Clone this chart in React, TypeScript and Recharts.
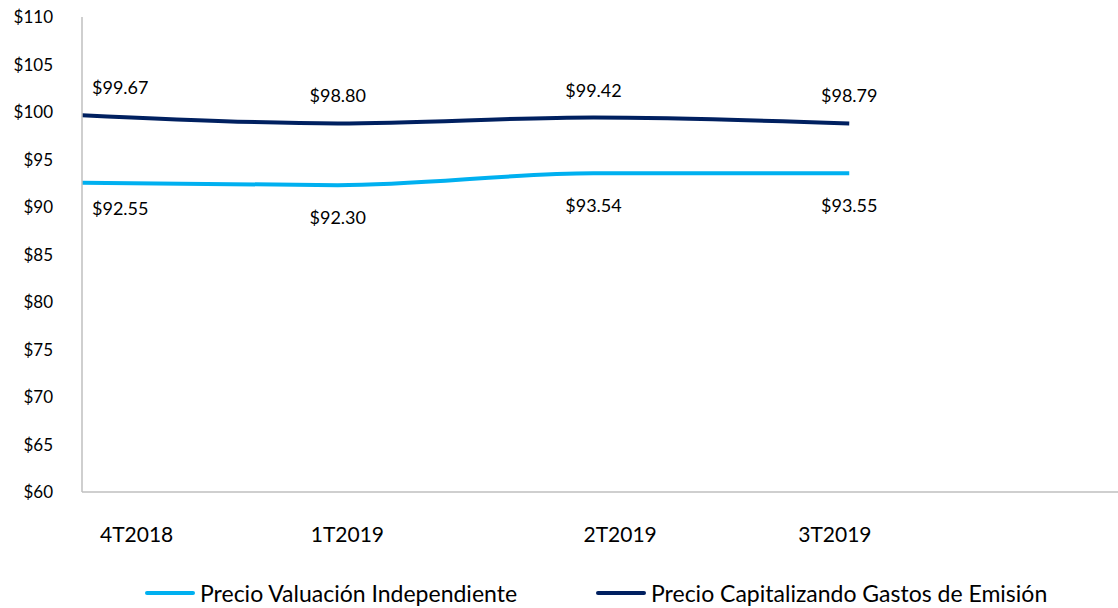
import React from 'react'
import { LineChart, Line, XAxis, YAxis, Legend, LabelList } from 'recharts'

const quarters = ['4T2018', '1T2019', '2T2019', '3T2019', '']
const valuacion = [92.55, 92.3, 93.54, 93.55, null]
const capitalizando = [99.67, 98.8, 99.42, 98.79, null]
const yTicks = [60, 65, 70, 75, 80, 85, 90, 95, 100, 105, 110]

const LIGHT = '#00B0F0'
const NAVY = '#002060'
const FONT = 'Lato, "Open Sans", sans-serif'

// label start offsets relative to each category point (layout only)
const tickShift = [18, -27, -10, -51, 0]

const data = quarters.map((q, i) => ({
  q,
  valuacion: valuacion[i],
  capitalizando: capitalizando[i],
}))

const fmt = (v: number) => `$${v.toFixed(2)}`

function QuarterTick(props: any) {
  const { x, y, payload, index } = props
  if (!payload.value) return null
  return (
    <text x={x + tickShift[index]} y={y + 48} textAnchor="start" fontSize={21} fill="#000" fontFamily={FONT}>
      {payload.value}
    </text>
  )
}

function makeLabel(above: boolean) {
  return function PriceLabel(props: any) {
    const { x, y, value, index } = props
    if (value == null) return null
    const first = index === 0
    const ty = above ? y - 21 : y + (first ? 32 : 39)
    return (
      <text
        x={first ? x + 10 : x}
        y={ty}
        textAnchor={first ? 'start' : 'middle'}
        fontSize={18}
        fill="#000"
        fontFamily={FONT}
      >
        {fmt(value)}
      </text>
    )
  }
}

function LegendBox() {
  const item = (color: string, label: string, width: number) => (
    <div style={{ display: 'flex', alignItems: 'center', width }}>
      <div style={{ width: 50, height: 4, background: color, borderRadius: 2, marginRight: 5 }} />
      <span>{label}</span>
    </div>
  )
  return (
    <div
      style={{
        display: 'flex',
        height: 30,
        alignItems: 'center',
        paddingLeft: 145,
        fontFamily: FONT,
        fontSize: 23,
        color: '#000',
      }}
    >
      {item(LIGHT, 'Precio Valuación Independiente', 451)}
      {item(NAVY, 'Precio Capitalizando Gastos de Emisión', 470)}
    </div>
  )
}

export default function App() {
  return (
    <div style={{ position: 'absolute', left: 0, top: 0, width: 1118, height: 608, background: '#fff' }}>
      <LineChart width={1118} height={608} data={data} margin={{ top: 17, right: 0, left: 0, bottom: 0 }}>
        <XAxis
          dataKey="q"
          height={86}
          tickLine={false}
          tickSize={0}
          interval={0}
          padding={{ left: 0, right: 13 }}
          axisLine={{ stroke: '#BFBFBF', strokeWidth: 1.5 }}
          tick={<QuarterTick />}
        />
        <YAxis
          width={82}
          domain={[60, 110]}
          ticks={yTicks}
          interval={0}
          tickLine={false}
          tickSize={0}
          tickMargin={29}
          axisLine={{ stroke: '#BFBFBF', strokeWidth: 1.5 }}
          tickFormatter={(v: number) => `$${v}`}
          tick={{ fill: '#000', fontSize: 17, fontFamily: FONT }}
        />
        <Legend verticalAlign="bottom" content={<LegendBox />} />
        <Line
          type="monotone"
          dataKey="valuacion"
          stroke={LIGHT}
          strokeWidth={4}
          dot={false}
          activeDot={false}
          isAnimationActive={false}
        >
          <LabelList dataKey="valuacion" content={makeLabel(false)} />
        </Line>
        <Line
          type="monotone"
          dataKey="capitalizando"
          stroke={NAVY}
          strokeWidth={4}
          dot={false}
          activeDot={false}
          isAnimationActive={false}
        >
          <LabelList dataKey="capitalizando" content={makeLabel(true)} />
        </Line>
      </LineChart>
    </div>
  )
}
